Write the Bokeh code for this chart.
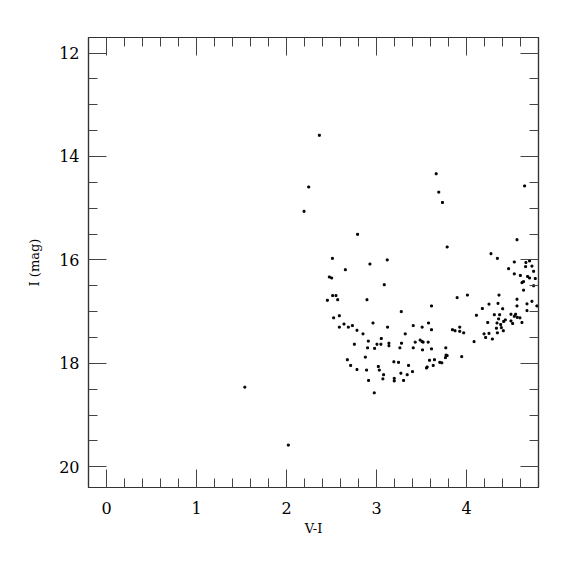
import numpy as np
from bokeh.plotting import figure
from bokeh.models import Range1d, FixedTicker, LinearAxis, ColumnDataSource
from bokeh.embed import file_html
from bokeh.resources import INLINE

# V-I colour
vi = [2.365, 2.247, 2.195, 3.663, 3.692, 3.733, 4.646, 2.790, 3.785, 4.561,
      2.510, 2.927, 3.119, 2.654, 2.476, 2.502, 3.086, 4.272, 4.343, 4.468,
      4.531, 4.531, 4.598, 4.660, 4.701, 4.657, 4.727, 4.746, 4.679, 4.701,
      4.764, 4.616, 4.634, 4.746, 4.634, 4.561, 4.561, 4.672, 4.727, 4.782,
      4.672, 2.513, 2.550, 2.569, 2.454, 2.894, 3.275, 3.611, 3.896, 4.010,
      2.524, 2.587, 2.587, 2.639, 2.687, 2.732, 2.783, 2.850, 2.961, 3.123,
      2.754, 2.909, 2.901, 2.979, 3.005, 3.049, 3.053, 3.138, 3.138, 3.260,
      3.278, 3.319, 3.408, 3.408, 3.430, 3.485, 3.507, 3.518, 3.511, 3.507,
      3.578, 3.611, 3.574, 3.611, 3.770, 3.773, 3.785, 3.766, 3.844, 3.873,
      3.925, 3.925, 3.969, 3.947, 4.110, 4.084, 4.176, 4.250, 4.361, 4.350,
      4.402, 4.309, 4.368, 4.357, 4.236, 4.339, 4.413, 4.431, 4.494, 4.494,
      4.531, 4.546, 4.564, 4.594, 4.616, 4.513, 4.380, 4.332, 4.387, 4.195,
      4.213, 4.250, 4.287, 4.343, 4.409, 2.676, 2.713, 2.783, 2.890, 2.876,
      2.912, 2.975, 3.020, 3.031, 3.071, 3.079, 3.193, 3.245, 3.197, 3.197,
      3.271, 3.301, 3.341, 3.356, 3.400, 3.556, 3.563, 3.589, 3.630, 3.644,
      3.703, 3.726, 1.537, 2.020]
# I magnitude
imag = [13.59, 14.59, 15.06, 14.335, 14.69, 14.89, 14.57, 15.505, 15.75, 15.61,
        15.97, 16.08, 16.00, 16.19, 16.33, 16.35, 16.48, 15.88, 15.97, 16.17,
        16.04, 16.27, 16.30, 16.05, 16.02, 16.13, 16.12, 16.22, 16.32, 16.35,
        16.36, 16.44, 16.42, 16.50, 16.585, 16.76, 16.89, 16.85, 16.80, 16.89,
        16.98, 16.69, 16.69, 16.77, 16.78, 16.77, 17.00, 16.89, 16.73, 16.68,
        17.12, 17.08, 17.30, 17.24, 17.30, 17.27, 17.36, 17.43, 17.22, 17.30,
        17.63, 17.57, 17.70, 17.71, 17.63, 17.63, 17.52, 17.61, 17.66, 17.70,
        17.61, 17.43, 17.27, 17.70, 17.59, 17.55, 17.58, 17.59, 17.74, 17.30,
        17.22, 17.35, 17.59, 17.72, 17.70, 17.84, 17.85, 17.89, 17.35, 17.37,
        17.30, 17.38, 17.41, 17.87, 17.07, 17.58, 16.94, 16.855, 16.68, 16.84,
        16.945, 17.06, 17.06, 17.14, 17.21, 17.22, 17.19, 17.16, 17.05, 17.18,
        17.09, 17.05, 17.11, 17.12, 17.21, 17.23, 17.25, 17.32, 17.31, 17.43,
        17.50, 17.42, 17.53, 17.41, 17.37, 17.93, 18.04, 18.12, 18.13, 17.88,
        18.33, 18.57, 18.06, 18.13, 18.30, 18.22, 17.97, 17.98, 18.29, 18.34,
        18.19, 18.33, 18.22, 18.04, 18.16, 18.09, 18.07, 17.94, 18.04, 17.93,
        17.98, 17.99, 18.46, 19.58]

x_major = [0, 1, 2, 3, 4]
x_minor = [round(-0.2 + 0.2 * i, 1) for i in range(26)]
y_major = [12, 14, 16, 18, 20]
y_minor = [11.5 + 0.5 * i for i in range(20)]

FONT = "DejaVu Serif"
FRAME = "#333333"

p = figure(width=567, height=567, output_backend="svg", toolbar_location=None,
           x_range=Range1d(-0.2, 4.8), y_range=Range1d(20.4, 11.7),
           min_border_left=88, min_border_right=29, min_border_top=37,
           min_border_bottom=80, x_axis_label="V-I", y_axis_label="I (mag)")
p.grid.visible = False
p.outline_line_color = FRAME
p.outline_line_width = 1.2
p.background_fill_color = "white"
p.border_fill_color = "white"

src = ColumnDataSource(dict(x=vi, y=imag))
p.scatter("x", "y", source=src, marker="square", size=1.9, color="black")

def style(ax, ticks, minor, labels=True):
    ax.ticker = FixedTicker(ticks=ticks, minor_ticks=minor)
    ax.major_tick_in = 18
    ax.major_tick_out = 0
    ax.minor_tick_in = 9
    ax.minor_tick_out = 0
    ax.major_tick_line_color = "#444444"
    ax.minor_tick_line_color = "#444444"
    ax.axis_line_color = FRAME
    ax.axis_line_width = 1.2
    ax.major_label_text_font = FONT
    ax.major_label_text_font_size = "16px"
    ax.major_label_text_color = "black"
    ax.axis_label_text_font = FONT
    ax.axis_label_text_font_size = "13px"
    ax.axis_label_text_font_style = "normal"
    ax.axis_label_text_color = "black"
    if not labels:
        ax.major_label_overrides = {t: "" for t in ticks}

for ax in p.xaxis:
    style(ax, x_major, x_minor)
    ax.major_label_standoff = 14
    ax.axis_label_standoff = 4
for ax in p.yaxis:
    style(ax, y_major, y_minor)
    ax.major_label_standoff = 9
    ax.axis_label_standoff = 14

top = LinearAxis()
style(top, x_major, x_minor, labels=False)
p.add_layout(top, "above")
right = LinearAxis()
style(right, y_major, y_minor, labels=False)
p.add_layout(right, "right")
p.min_border_top = 37
p.min_border_right = 29

open("out.html", "w").write(file_html(p, INLINE))
